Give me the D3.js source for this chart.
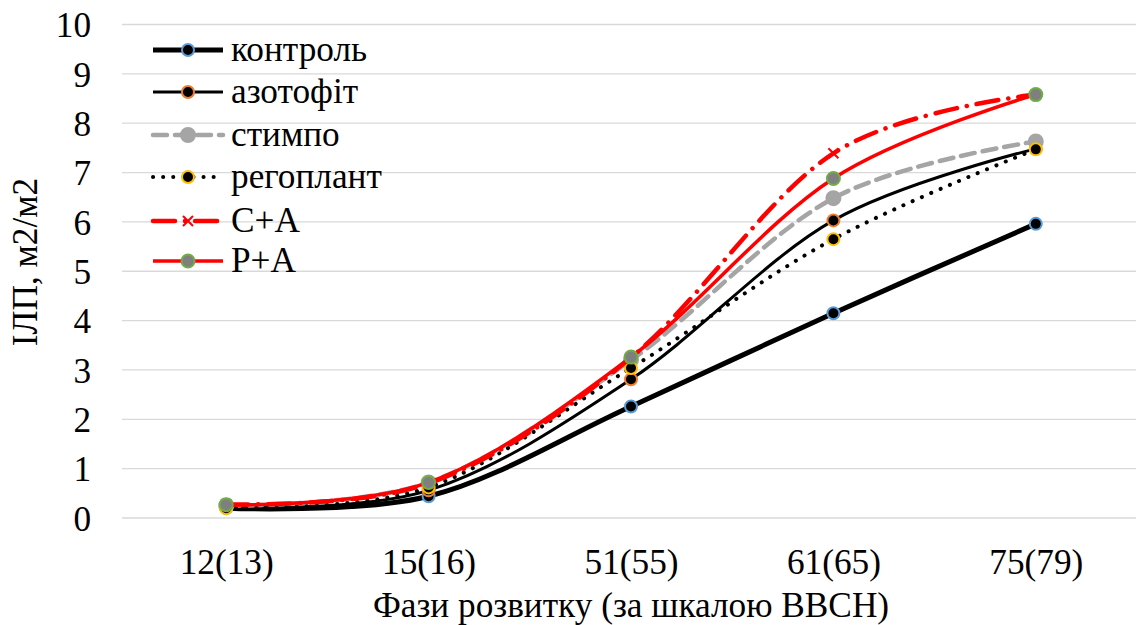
<!DOCTYPE html>
<html><head><meta charset="utf-8">
<script src="https://cdn.jsdelivr.net/npm/d3@7/dist/d3.min.js"></script>
<style>
body{margin:0;background:#fff}
</style>
</head><body>
<svg id="c" width="1136" height="625"></svg>
<script>
const categories = ["12(13)", "15(16)", "51(55)", "61(65)", "75(79)"];
const yTicks = [0,1,2,3,4,5,6,7,8,9,10];
const seriesNames = ["контроль", "азотофіт", "стимпо", "регоплант", "С+А", "Р+А"];
const kontrol    = [0.20, 0.44, 2.26, 4.15, 5.96];
const azotofit   = [0.22, 0.56, 2.81, 6.03, 7.48];
const stympo     = [0.25, 0.72, 3.20, 6.48, 7.63];
const rehoplant  = [0.20, 0.62, 3.04, 5.65, 7.47];
const sa         = [0.28, 0.70, 3.25, 7.39, 8.58];
const pa         = [0.27, 0.72, 3.26, 6.88, 8.58];
const values = [kontrol, azotofit, stympo, rehoplant, sa, pa];

const styles = [
  {stroke:"#000", width:5, dash:null, marker:"circle", r:6, fill:"#000", mstroke:"#5B9BD5"},
  {stroke:"#000", width:3, dash:null, marker:"circle", r:6, fill:"#000", mstroke:"#ED7D31"},
  {stroke:"#A5A5A5", width:4.5, dash:"14,8", cap:"round", marker:"circle", r:7, fill:"#A5A5A5", mstroke:"#A5A5A5"},
  {stroke:"#000", width:4, dash:"0.1,10", cap:"round", marker:"circle", r:6, fill:"#000", mstroke:"#FFC000"},
  {stroke:"#FF0000", width:4.5, dash:"22,10,0.1,10", cap:"round", marker:"x", r:5, fill:"none", mstroke:"#FF0000"},
  {stroke:"#FF0000", width:3.5, dash:null, marker:"circle", r:6.5, fill:"#7F7F7F", mstroke:"#70AD47"}
];

const ctx = document.createElement("canvas").getContext("2d");
function avail(f){
  const s = "контроль 12(13) ВВСН";
  ctx.font = "40px monospace"; const a = ctx.measureText(s).width;
  ctx.font = `40px "${f}", monospace`; const b = ctx.measureText(s).width;
  return Math.abs(a-b) > 0.5;
}
const cands = ["Liberation Serif","Times New Roman","Tinos","DejaVu Serif","Noto Serif","FreeSerif"];
const chosen = cands.find(avail);
const font = chosen ? `"${chosen}", serif` : `"Liberation Sans", Arial, sans-serif`;
ctx.font = `34px ${font}`;
const fs = Math.max(26, Math.min(36, 34 * 94 / ctx.measureText("12(13)").width));

const svg = d3.select("#c").style("font-family", font);
const L = 125, R = 1137, T = 24.5, B = 518;
const x = d3.scalePoint().domain(categories).range([L, R]).padding(0.5);
const y = d3.scaleLinear().domain([0,10]).range([B, T]);

svg.append("g").selectAll("line").data(yTicks).join("line")
  .attr("x1", 122).attr("x2", 1136)
  .attr("y1", d=>y(d)).attr("y2", d=>y(d))
  .attr("stroke", "#D9D9D9").attr("stroke-width", 1.3);

const yAxis = d3.axisLeft(y).tickValues(yTicks).tickSize(0).tickPadding(0);
const ga = svg.append("g").attr("transform", "translate(91,0)").call(yAxis);
ga.select(".domain").remove();
ga.attr("font-family", null).attr("font-size", null);
ga.selectAll("text").attr("font-size", fs).attr("fill", "#000").attr("dy", "0.35em");

const xAxis = d3.axisBottom(x).tickSize(0).tickPadding(0);
const gx = svg.append("g").attr("transform", "translate(0,562)").call(xAxis);
gx.select(".domain").remove();
gx.attr("font-family", null).attr("font-size", null);
gx.selectAll("text").attr("font-size", fs).attr("fill", "#000").attr("dy", "0.35em");

svg.append("text").attr("x", 631).attr("y", 617).attr("text-anchor", "middle")
  .attr("font-size", fs).text("Фази розвитку (за шкалою BBCH)");
svg.append("text").attr("transform", "translate(37,262) rotate(-90)").attr("text-anchor", "middle")
  .attr("font-size", fs).text("ІЛП, м2/м2");

const line = d3.line().x((d,i)=>x(categories[i])).y(d=>y(d)).curve(d3.curveCatmullRom.alpha(0));

function drawMarker(g, st, cx, cy) {
  if (st.marker === "circle") {
    g.append("circle").attr("cx", cx).attr("cy", cy).attr("r", st.r)
      .attr("fill", st.fill).attr("stroke", st.mstroke).attr("stroke-width", 2);
  } else {
    const s = st.r;
    g.append("path").attr("d", `M${cx-s},${cy-s}L${cx+s},${cy+s}M${cx-s},${cy+s}L${cx+s},${cy-s}`)
      .attr("stroke", st.mstroke).attr("stroke-width", 2).attr("fill", "none");
  }
}

values.forEach((vals, k) => {
  const st = styles[k];
  const g = svg.append("g");
  g.append("path").attr("d", line(vals)).attr("fill", "none")
    .attr("stroke", st.stroke).attr("stroke-width", st.width)
    .attr("stroke-dasharray", st.dash).attr("stroke-linecap", st.cap || "butt");
  vals.forEach((v,i) => drawMarker(g, st, x(categories[i]), y(v)));
});

const lg = svg.append("g");
const rowY = [50, 92, 135, 177, 221, 261];
seriesNames.forEach((name, k) => {
  const st = styles[k];
  const ry = rowY[k];
  lg.append("line").attr("x1", 153).attr("x2", 223).attr("y1", ry).attr("y2", ry)
    .attr("stroke", st.stroke).attr("stroke-width", st.width)
    .attr("stroke-dasharray", st.dash).attr("stroke-linecap", st.cap || "butt");
  drawMarker(lg, st, 188, ry);
  lg.append("text").attr("x", 231).attr("y", ry).attr("dy", "0.3em")
    .attr("font-size", fs).text(name);
});
</script>
</body></html>
